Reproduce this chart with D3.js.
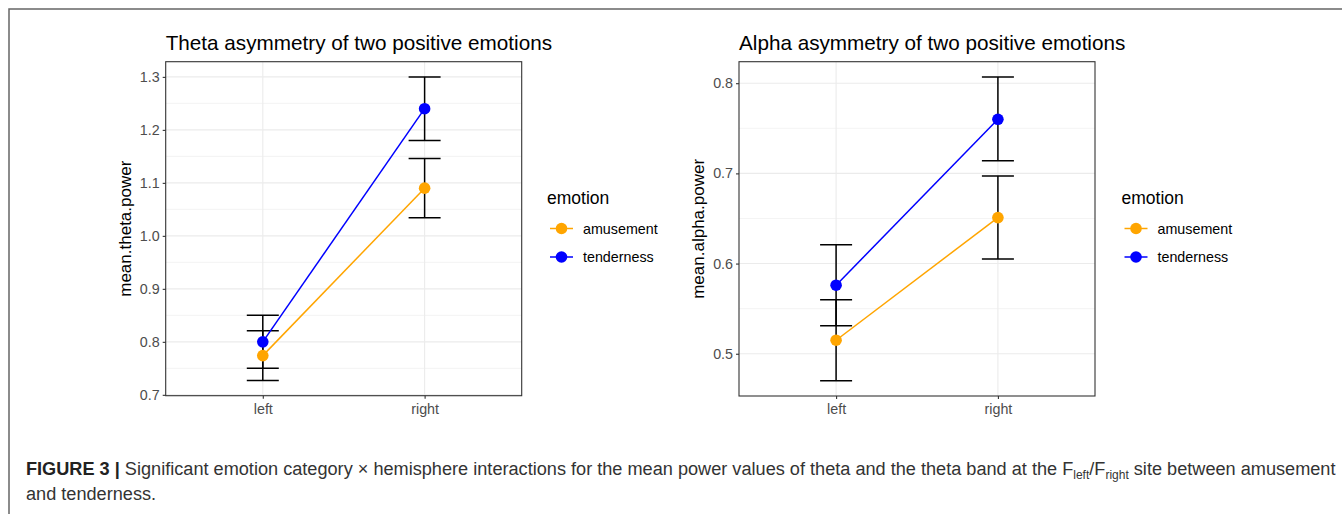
<!DOCTYPE html>
<html lang="en">
<head>
    <meta charset="UTF-8">
    <title>Theta and alpha asymmetry</title>
    <style>
        body { margin: 0; background: #fff; }
        svg { display: block; font-family: "Liberation Sans", Arial, sans-serif; }
        .grid-major { stroke: #ebebeb; stroke-width: 1.1; }
        .grid-minor { stroke: #ebebeb; stroke-width: 0.6; }
        .tick-label { fill: #4d4d4d; font-size: 14.3px; }
        .axis-title { fill: #000; font-size: 17px; }
        .plot-title { fill: #000; font-size: 20.7px; }
        .legend-title { fill: #000; font-size: 17.5px; }
        .legend-label { fill: #000; font-size: 14.3px; }
        .caption { fill: #333; font-size: 18.15px; }
    </style>
</head>
<body>
<svg width="1342" height="515"></svg>
<script src="https://cdnjs.cloudflare.com/ajax/libs/d3/7.8.5/d3.min.js"></script>
<script>

    // data
    var hemispheres = ["left", "right"];
    var emotions = ["amusement", "tenderness"];
    var emotionColors = ["#FFA500", "#0000FF"];

    var thetaAmusement = [0.774, 1.090];
    var thetaAmusementLow = [0.727, 1.034];
    var thetaAmusementHigh = [0.821, 1.146];
    var thetaTenderness = [0.800, 1.240];
    var thetaTendernessLow = [0.750, 1.180];
    var thetaTendernessHigh = [0.850, 1.300];
    var thetaTicks = [0.7, 0.8, 0.9, 1.0, 1.1, 1.2, 1.3];

    var alphaAmusement = [0.515, 0.651];
    var alphaAmusementLow = [0.470, 0.605];
    var alphaAmusementHigh = [0.560, 0.697];
    var alphaTenderness = [0.576, 0.760];
    var alphaTendernessLow = [0.531, 0.714];
    var alphaTendernessHigh = [0.621, 0.807];
    var alphaTicks = [0.5, 0.6, 0.7, 0.8];

    var svg = d3.select("svg");

    // outer figure frame (top + left only)
    svg.append("path")
        .attr("d", "M9,514V9H1342")
        .attr("fill", "none")
        .attr("stroke", "#666")
        .attr("stroke-width", 1.5);

    function series(means, lows, highs) {
        return hemispheres.map(function(h, i) {
            return {side: h, mean: means[i], low: lows[i], high: highs[i]};
        });
    }

    function drawPanel(opt) {
        var x = d3.scalePoint().domain(hemispheres)
            .range([opt.left, opt.right]).padding(0.6);

        var all = [];
        opt.series.forEach(function(s) { s.forEach(function(d) { all.push(d.low, d.high); }); });
        var lo = d3.min(all), hi = d3.max(all), pad = (hi - lo) * 0.05;
        var y = d3.scaleLinear().domain([lo - pad, hi + pad]).range([opt.bottom, opt.top]);

        var g = svg.append("g");

        // minor grid
        var minor = opt.ticks.slice(0, -1).map(function(t, i) { return (t + opt.ticks[i + 1]) / 2; });
        if (y(opt.ticks[opt.ticks.length - 1] + 0.05) > opt.top) minor.push(opt.ticks[opt.ticks.length - 1] + 0.05);
        if (y(opt.ticks[0] - 0.05) < opt.bottom) minor.push(opt.ticks[0] - 0.05);
        g.selectAll(".grid-minor").data(minor).enter().append("line")
            .attr("class", "grid-minor")
            .attr("x1", opt.left).attr("x2", opt.right)
            .attr("y1", function(d) { return y(d); }).attr("y2", function(d) { return y(d); });

        g.selectAll(".grid-major-y").data(opt.ticks).enter().append("line")
            .attr("class", "grid-major")
            .attr("x1", opt.left).attr("x2", opt.right)
            .attr("y1", function(d) { return y(d); }).attr("y2", function(d) { return y(d); });

        g.selectAll(".grid-major-x").data(hemispheres).enter().append("line")
            .attr("class", "grid-major")
            .attr("x1", function(d) { return x(d); }).attr("x2", function(d) { return x(d); })
            .attr("y1", opt.top).attr("y2", opt.bottom);

        // axes
        var yAxis = g.append("g")
            .attr("transform", "translate(" + opt.left + ",0)")
            .call(d3.axisLeft(y).tickValues(opt.ticks).tickSize(3).tickPadding(3).tickFormat(d3.format(".1f")));
        var xAxis = g.append("g")
            .attr("transform", "translate(0," + opt.bottom + ")")
            .call(d3.axisBottom(x).tickSize(3).tickPadding(5));
        [yAxis, xAxis].forEach(function(a) {
            a.select(".domain").remove();
            a.selectAll(".tick line").attr("stroke", "#333").attr("stroke-width", 1.1);
            a.selectAll(".tick text").attr("class", "tick-label").attr("font-family", null).attr("font-size", null).attr("fill", null);
        });

        // panel border
        g.append("rect")
            .attr("x", opt.left).attr("y", opt.top)
            .attr("width", opt.right - opt.left).attr("height", opt.bottom - opt.top)
            .attr("fill", "none").attr("stroke", "#333").attr("stroke-width", 1.1);

        var line = d3.line().x(function(d) { return x(d.side); }).y(function(d) { return y(d.mean); });

        // error bars
        opt.series.forEach(function(s) {
            var eb = g.append("g").selectAll("g").data(s).enter().append("g")
                .attr("stroke", "#000").attr("stroke-width", 1.5);
            eb.append("line")
                .attr("x1", function(d) { return x(d.side); }).attr("x2", function(d) { return x(d.side); })
                .attr("y1", function(d) { return y(d.low); }).attr("y2", function(d) { return y(d.high); });
            eb.append("line")
                .attr("x1", function(d) { return x(d.side) - 16; }).attr("x2", function(d) { return x(d.side) + 16; })
                .attr("y1", function(d) { return y(d.low); }).attr("y2", function(d) { return y(d.low); });
            eb.append("line")
                .attr("x1", function(d) { return x(d.side) - 16; }).attr("x2", function(d) { return x(d.side) + 16; })
                .attr("y1", function(d) { return y(d.high); }).attr("y2", function(d) { return y(d.high); });
        });

        // lines and points
        opt.series.forEach(function(s, i) {
            g.append("path").datum(s)
                .attr("d", line)
                .attr("fill", "none")
                .attr("stroke", emotionColors[i])
                .attr("stroke-width", 1.5);
            g.selectAll(".pt" + i).data(s).enter().append("circle")
                .attr("cx", function(d) { return x(d.side); })
                .attr("cy", function(d) { return y(d.mean); })
                .attr("r", 5.8)
                .attr("fill", emotionColors[i]);
        });

        // titles
        g.append("text").attr("class", "plot-title")
            .attr("x", opt.left).attr("y", 50).text(opt.title);
        g.append("text").attr("class", "axis-title")
            .attr("transform", "translate(" + opt.yTitleX + "," + (opt.top + opt.bottom) / 2 + ") rotate(-90)")
            .attr("text-anchor", "middle").text(opt.yTitle);

        // legend
        var lg = g.append("g").attr("transform", "translate(" + opt.legendX + ",0)");
        lg.append("text").attr("class", "legend-title").attr("x", 0).attr("y", 204).text("emotion");
        var items = lg.selectAll(".item").data(emotions).enter().append("g")
            .attr("transform", function(d, i) { return "translate(0," + (228.5 + i * 28.5) + ")"; });
        items.append("line").attr("x1", 3).attr("x2", 26).attr("y1", 0).attr("y2", 0)
            .attr("stroke", function(d, i) { return emotionColors[i]; }).attr("stroke-width", 1.5);
        items.append("circle").attr("cx", 14.5).attr("cy", 0).attr("r", 5.8)
            .attr("fill", function(d, i) { return emotionColors[i]; });
        items.append("text").attr("class", "legend-label").attr("x", 36).attr("y", 5).text(function(d) { return d; });
    }

    drawPanel({
        left: 165.7, right: 521.7, top: 61.7, bottom: 395.7,
        ticks: thetaTicks,
        series: [series(thetaAmusement, thetaAmusementLow, thetaAmusementHigh),
                 series(thetaTenderness, thetaTendernessLow, thetaTendernessHigh)],
        title: "Theta asymmetry of two positive emotions",
        yTitle: "mean.theta.power", yTitleX: 131,
        legendX: 547
    });

    drawPanel({
        left: 739, right: 1095, top: 61.7, bottom: 396,
        ticks: alphaTicks,
        series: [series(alphaAmusement, alphaAmusementLow, alphaAmusementHigh),
                 series(alphaTenderness, alphaTendernessLow, alphaTendernessHigh)],
        title: "Alpha asymmetry of two positive emotions",
        yTitle: "mean.alpha.power", yTitleX: 704,
        legendX: 1121.5
    });

    // caption
    var cap = svg.append("text").attr("class", "caption").attr("x", 26).attr("y", 475);
    cap.append("tspan").attr("font-weight", "bold").attr("fill", "#222").text("FIGURE 3 | ");
    cap.append("tspan").text("Significant emotion category \u00d7 hemisphere interactions for the mean power values of theta and the theta band at the F");
    cap.append("tspan").attr("font-size", "12px").attr("dy", 3.5).text("left");
    cap.append("tspan").attr("dy", -3.5).text("/F");
    cap.append("tspan").attr("font-size", "12px").attr("dy", 3.5).text("right");
    cap.append("tspan").attr("dy", -3.5).text(" site between amusement");
    svg.append("text").attr("class", "caption").attr("x", 26).attr("y", 500).text("and tenderness.");

</script>
</body>
</html>
